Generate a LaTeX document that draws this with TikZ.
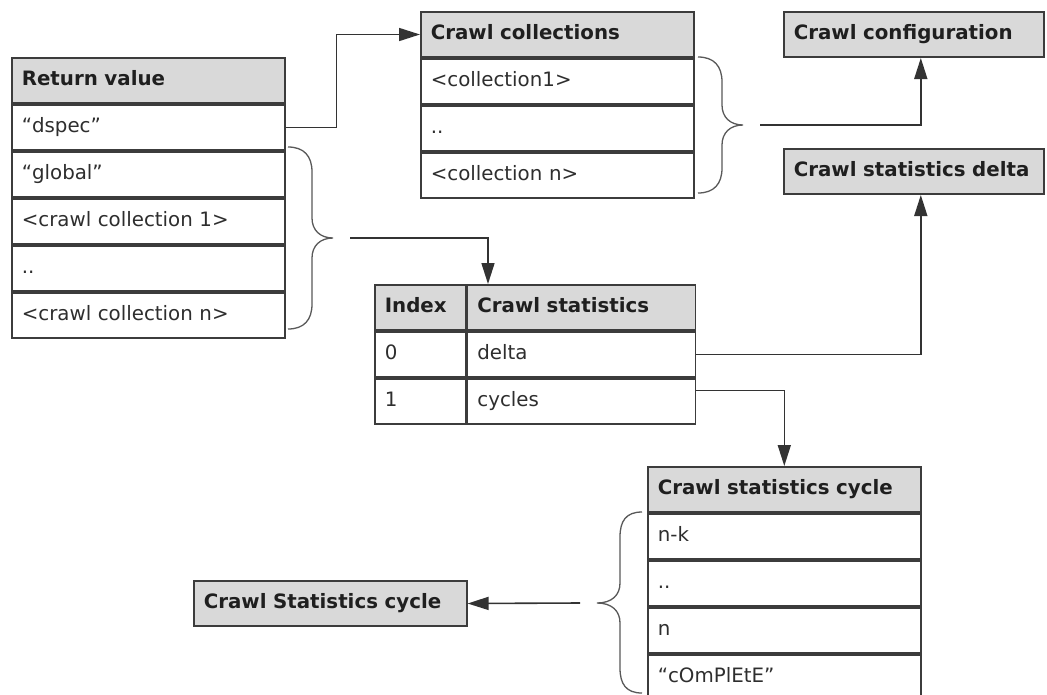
\documentclass[tikz,border=0pt]{standalone}
\usepackage{fontspec}
\setmainfont{DejaVu Sans}
\usetikzlibrary{arrows.meta}
\definecolor{hdrfill}{HTML}{D9D9D9}
\definecolor{edgec}{HTML}{3C3C3C}
\definecolor{txtc}{HTML}{2E2E2E}
\definecolor{linec}{HTML}{333333}
\begin{document}
\begin{tikzpicture}[x=1pt,y=-1pt,
  cell/.style={draw=edgec, line width=1.6pt, fill=white, rectangle, anchor=north west,
    minimum height=45.4pt, inner xsep=10pt, inner ysep=0pt, text width=#1, align=left,
    text height=14pt, text depth=4.5pt, font=\fontsize{19.8}{23}\selectfont, text=txtc},
  cell/.default=253pt,
  hdr/.style={cell=#1, fill=hdrfill, font=\fontsize{19.8}{23}\selectfont\bfseries, text=black!88},
  hdr/.default=253pt,
  conn/.style={draw=linec, line width=1.6pt, -{Triangle[length=21pt,width=13pt]}},
  brc/.style={draw=edgec!85, line width=1.3pt}]
\useasboundingbox[fill=white] (0,0) rectangle (1047,694);

% Return value table
\node[hdr] (rv0) at (11,57) {Return value};
\node[cell] (rv1) at (rv0.south west) {“dspec”};
\node[cell] (rv2) at (rv1.south west) {“global”};
\node[cell] (rv3) at (rv2.south west) {<crawl collection 1>};
\node[cell] (rv4) at (rv3.south west) {..};
\node[cell] (rv5) at (rv4.south west) {<crawl collection n>};

% Crawl collections table
\node[hdr] (cc0) at (420,11) {Crawl collections};
\node[cell] (cc1) at (cc0.south west) {<collection1>};
\node[cell] (cc2) at (cc1.south west) {..};
\node[cell] (cc3) at (cc2.south west) {<collection n>};

% Single boxes
\node[hdr=240pt] (cfg) at (783,11) {Crawl configuration};
\node[hdr=240pt] (del) at (783,148) {Crawl statistics delta};
\node[hdr] (csc) at (193,580) {Crawl Statistics cycle};

% Index table
\node[hdr=71pt] (ih0) at (374,284) {Index};
\node[hdr=208pt] (ih1) at (ih0.north east) {Crawl statistics};
\node[cell=71pt] (i0k) at (ih0.south west) {0};
\node[cell=208pt] (i0v) at (i0k.north east) {delta};
\node[cell=71pt] (i1k) at (i0k.south west) {1};
\node[cell=208pt] (i1v) at (i1k.north east) {cycles};

% Crawl statistics cycle table
\node[hdr] (cy0) at (647,466) {Crawl statistics cycle};
\node[cell] (cy1) at (cy0.south west) {n-k};
\node[cell] (cy2) at (cy1.south west) {..};
\node[cell] (cy3) at (cy2.south west) {n};
\node[cell] (cy4) at (cy3.south west) {“cOmPlEtE”};

% Braces
\draw[brc] (288,147) .. controls (304,147) and (312,156) .. (312,172) -- (312,218)
  .. controls (312,230) and (320,238) .. (333,238)
  .. controls (320,238) and (312,246) .. (312,258) -- (312,304)
  .. controls (312,320) and (304,329) .. (288,329);
\draw[brc] (698,57) .. controls (714,57) and (722,66) .. (722,82) -- (722,105)
  .. controls (722,117) and (730,125) .. (743,125)
  .. controls (730,125) and (722,133) .. (722,145) -- (722,168)
  .. controls (722,184) and (714,193) .. (698,193);
\draw[brc] (642,512) .. controls (626,512) and (620,521) .. (620,537) -- (620,583)
  .. controls (620,595) and (612,603) .. (597,603)
  .. controls (612,603) and (620,611) .. (620,623) -- (620,668)
  .. controls (620,684) and (626,693) .. (642,693);

% Connectors
\coordinate (b1) at (350,238);
\coordinate (idxin) at (488,284);
\coordinate (b2) at (760,125);
\coordinate (b3) at (580,603);
\draw[conn] (rv1.east) -- ++(51,0) |- (cc0.west);
\draw[conn] (b1) -| (idxin);
\draw[conn] (b2) -| ([xshift=7pt]cfg.south);
\draw[conn] (i0v.east) -| ([xshift=7pt]del.south);
\draw[conn] ([yshift=11pt]i1v.east) -| (cy0.north);
\draw[conn] (b3) -- (csc.east);
\end{tikzpicture}
\end{document}
